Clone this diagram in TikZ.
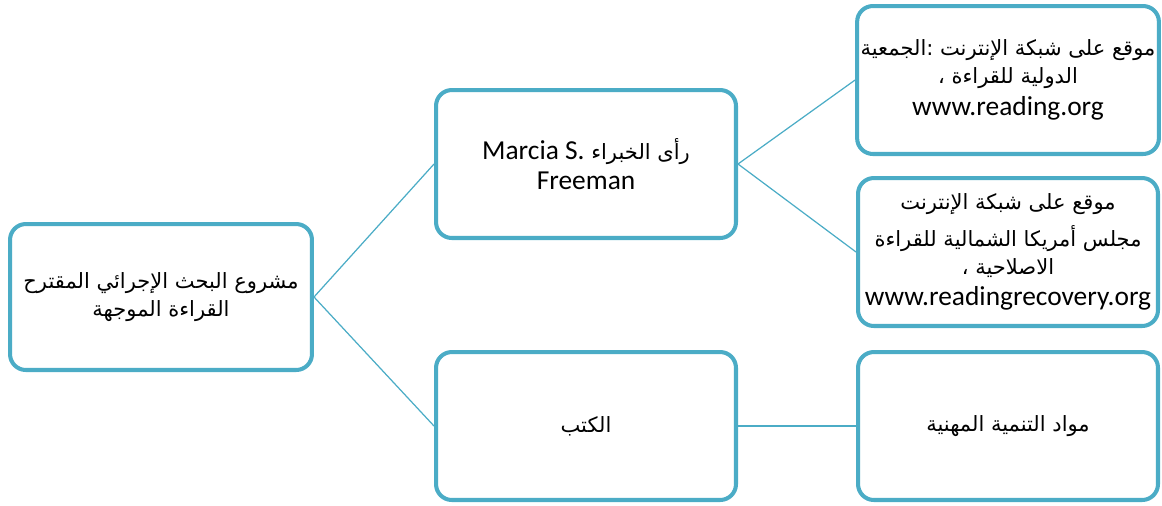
\documentclass[tikz,border=0pt]{standalone}
\usepackage{fontspec}
\setmainfont{Carlito}
\newfontfamily\latinfont[Scale=1.2]{Carlito}
\newfontfamily\arabicfont[Script=Arabic,Scale=0.92]{DejaVu Sans}
\TeXXeTstate=1
\usepackage{tikz}
\usetikzlibrary{positioning}
\definecolor{aqua}{RGB}{75,172,198}
\tikzstyle{box}=[draw=aqua,line width=2.3pt,rounded corners=9pt,fill=white,minimum width=6cm,minimum height=2.96cm,align=center,font=\fontsize{13}{16}\selectfont\arabicfont,inner sep=2pt]
\tikzstyle{link}=[draw=aqua,line width=0.7pt]

\begin{document}
\begin{tikzpicture}[x=0.02cm,y=-0.02cm]
    \useasboundingbox (0,0) rectangle (1162,505);

    \node[box, minimum width=6.04cm, minimum height=2.92cm] (root) at (161, 297) {\beginR مشروع البحث الإجرائي المقترح\endR\\\beginR القراءة الموجهة\endR};

    \node[box] (expert) at (586, 164) {\beginR رأى الخبراء {\latinfont\beginL Marcia S.\endL}\endR\\[1pt]{\latinfont Freeman}};

    \node[box] (books) at (586, 426) {\beginR الكتب\endR};

    \node[box] (ira) at (1008, 80) {\beginR موقع على شبكة الإنترنت :الجمعية\endR\\\beginR الدولية للقراءة ،\endR\\[2pt]{\latinfont www.reading.org}};

    \node[box] (rrc) at (1008, 252) {\beginR موقع على شبكة الإنترنت\endR\\[5pt]\beginR مجلس أمريكا الشمالية للقراءة\endR\\\beginR الاصلاحية ،\endR\\[2pt]{\latinfont www.readingrecovery.org}};

    \node[box] (prodev) at (1008, 426) {\beginR مواد التنمية المهنية\endR};

    % links
    \draw[link] (root.east) -- (expert.west);
    \draw[link] (root.east) -- (books.west);
    \draw[link] (expert.east) -- (ira.west);
    \draw[link] (expert.east) -- (rrc.west);
    \draw[link] (books.east) -- (prodev.west);
\end{tikzpicture}
\end{document}
